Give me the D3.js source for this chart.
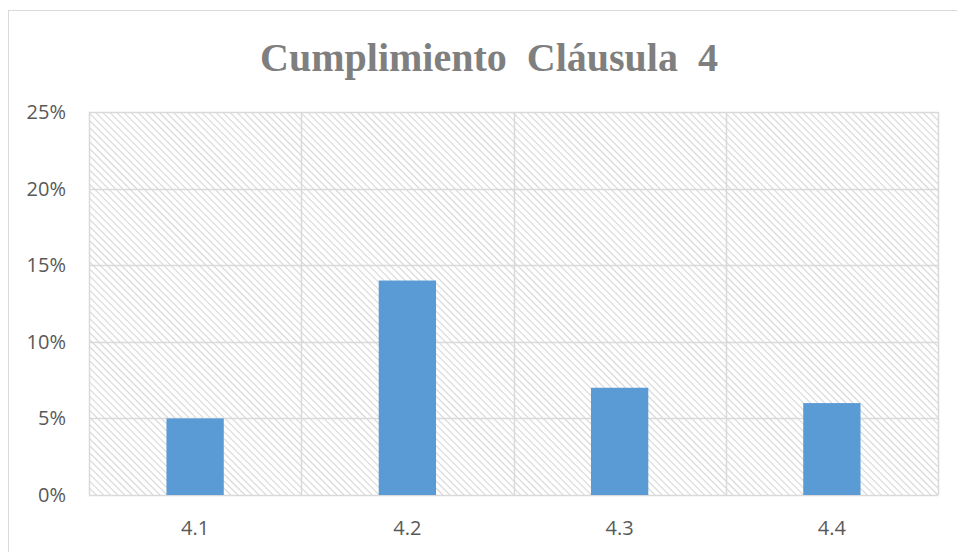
<!DOCTYPE html>
<html>
<head>
<meta charset="utf-8">
<script src="https://cdn.jsdelivr.net/npm/d3@7"></script>
<style>
  body { margin: 0; background: #fff; }
  svg { display: block; }
</style>
</head>
<body>
<div id="chart"></div>
<script>
// data
var categories = ["4.1", "4.2", "4.3", "4.4"];
var values = [0.05, 0.14, 0.07, 0.06];
var yTicks = [0, 0.05, 0.10, 0.15, 0.20, 0.25];
var titleText = "Cumplimiento  Cláusula  4";

var width = 957, height = 552;
var margin = {top: 112, right: 19, bottom: 57, left: 89};

var svg = d3.select("#chart").append("svg")
    .attr("width", width)
    .attr("height", height);

// hatch pattern for plot background (lines running top-left to bottom-right)
var defs = svg.append("defs");
var pat = defs.append("pattern")
    .attr("id", "hatch")
    .attr("patternUnits", "userSpaceOnUse")
    .attr("width", 5)
    .attr("height", 5)
    .attr("patternTransform", "rotate(45)");
pat.append("rect").attr("width", 5).attr("height", 5).attr("fill", "#fff");
pat.append("line")
    .attr("x1", 0).attr("y1", 0).attr("x2", 5).attr("y2", 0)
    .attr("stroke", "#d6d6d6")
    .attr("stroke-width", 2.2);

// outer chart border
svg.append("rect")
    .attr("x", 8.5).attr("y", 10.5)
    .attr("width", 980).attr("height", 600)
    .attr("fill", "none")
    .attr("stroke", "#d9d9d9");

svg.append("text")
    .attr("x", 489)
    .attr("y", 71)
    .attr("text-anchor", "middle")
    .style("font-family", "'Liberation Serif', 'Times New Roman', serif")
    .style("font-weight", "bold")
    .style("font-size", "40px")
    .style("white-space", "pre")
    .attr("fill", "#7f7f7f")
    .text(titleText);

var innerW = width - margin.left - margin.right;
var innerH = height - margin.top - margin.bottom;
var g = svg.append("g").attr("transform", "translate(" + margin.left + "," + margin.top + ")");

var x = d3.scaleBand().domain(categories).range([0, innerW]).paddingInner(0).paddingOuter(0);
var y = d3.scaleLinear().domain([0, 0.25]).range([innerH, 0]);

g.append("rect")
    .attr("width", innerW)
    .attr("height", innerH)
    .attr("fill", "url(#hatch)");

// horizontal gridlines
g.selectAll(".hgrid").data(yTicks).enter().append("line")
    .attr("x1", 0).attr("x2", innerW)
    .attr("y1", function(d) { return Math.round(y(d)) + 0.5; })
    .attr("y2", function(d) { return Math.round(y(d)) + 0.5; })
    .attr("stroke", "#d9d9d9")
    .attr("stroke-width", 1.5);

// vertical gridlines at category boundaries
var bounds = categories.map(function(c) { return x(c); }).concat([innerW]);
g.selectAll(".vgrid").data(bounds).enter().append("line")
    .attr("x1", function(d) { return Math.round(d) + 0.5; })
    .attr("x2", function(d) { return Math.round(d) + 0.5; })
    .attr("y1", 0).attr("y2", innerH)
    .attr("stroke", "#d9d9d9")
    .attr("stroke-width", 1.5);

var barW = x.bandwidth() * 0.27;
g.selectAll(".bar").data(values).enter().append("rect")
    .attr("x", function(d, i) { return x(categories[i]) + x.bandwidth() / 2 - barW / 2; })
    .attr("y", function(d) { return y(d); })
    .attr("width", barW)
    .attr("height", function(d) { return innerH - y(d); })
    .attr("fill", "#5b9bd5");

// y axis labels
g.selectAll(".ylab").data(yTicks).enter().append("text")
    .attr("x", -23)
    .attr("y", function(d) { return y(d); })
    .attr("dy", "0.35em")
    .attr("text-anchor", "end")
    .style("font-family", "'Open Sans', 'Liberation Sans', sans-serif")
    .style("font-size", "20px")
    .attr("fill", "#595959")
    .text(function(d) { return d3.format(".0%")(d); });

// x axis labels
g.selectAll(".xlab").data(categories).enter().append("text")
    .attr("x", function(d) { return x(d) + x.bandwidth() / 2; })
    .attr("y", innerH + 40)
    .attr("text-anchor", "middle")
    .style("font-family", "'Open Sans', 'Liberation Sans', sans-serif")
    .style("font-size", "20px")
    .attr("fill", "#595959")
    .text(function(d) { return d; });
</script>
</body>
</html>
